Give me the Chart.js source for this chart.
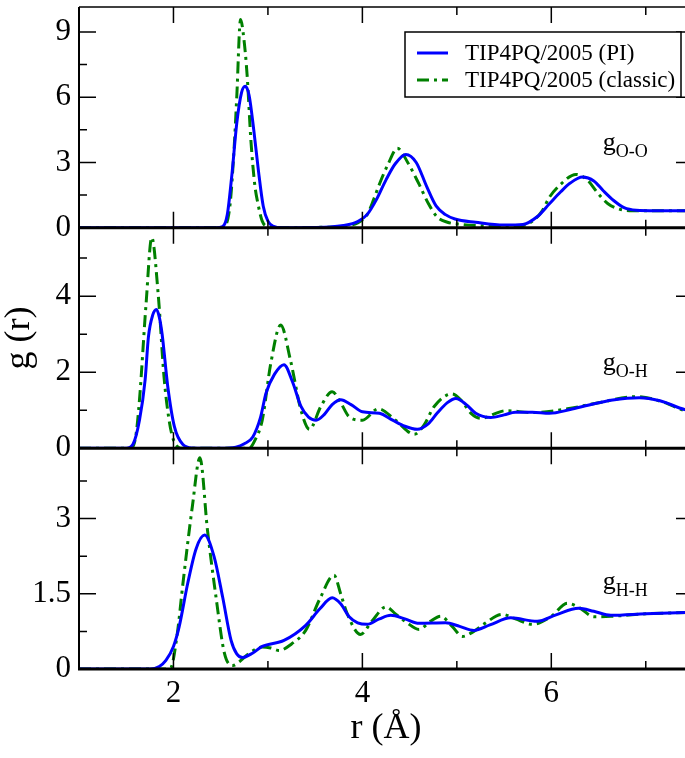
<!DOCTYPE html>
<html>
<head>
<meta charset="utf-8">
<script src="https://cdn.jsdelivr.net/npm/chart.js@4/dist/chart.umd.min.js"></script>
<style>
  html, body { margin: 0; padding: 0; overflow: hidden; background: #fff; }
  #wrap { position: relative; width: 700px; height: 758px; }
</style>
</head>
<body>
<div id="wrap"><canvas id="rdf" width="700" height="758"></canvas></div>
<script>
// g_O-O
const rOO_pi = [1.0, 2.45, 2.52, 2.57, 2.62, 2.67, 2.72, 2.76, 2.80, 2.85, 2.90, 2.95, 3.00, 3.06, 3.15, 3.6, 3.8, 3.95, 4.05, 4.15, 4.25, 4.35, 4.46, 4.57, 4.68, 4.78, 4.88, 4.98, 5.2, 5.5, 5.7, 5.85, 5.98, 6.1, 6.2, 6.33, 6.45, 6.55, 6.66, 6.77, 6.9, 7.1, 7.5];
const gOO_pi = [0, 0, 0.05, 0.6, 2.5, 4.8, 6.2, 6.5, 6.1, 4.5, 2.6, 1.0, 0.3, 0.06, 0, 0.02, 0.1, 0.28, 0.6, 1.3, 2.2, 2.95, 3.37, 3.0, 1.9, 1.0, 0.6, 0.4, 0.25, 0.12, 0.15, 0.5, 1.1, 1.65, 2.05, 2.33, 2.15, 1.7, 1.25, 0.92, 0.8, 0.78, 0.78];
const rOO_cl = [1.0, 2.5, 2.55, 2.6, 2.64, 2.67, 2.71, 2.745, 2.78, 2.82, 2.86, 2.89, 2.94, 3.0, 3.1, 3.6, 3.8, 3.95, 4.05, 4.12, 4.18, 4.27, 4.37, 4.48, 4.6, 4.7, 4.79, 4.9, 5.05, 5.3, 5.55, 5.7, 5.8, 5.9, 5.98, 6.1, 6.26, 6.38, 6.49, 6.6, 6.72, 6.86, 7.5];
const gOO_cl = [0, 0, 0.1, 1.1, 3.5, 6.0, 9.57, 8.7, 7.0, 4.0, 2.0, 1.2, 0.3, 0.05, 0, 0.02, 0.08, 0.22, 0.6, 1.3, 2.0, 2.9, 3.65, 3.0, 2.0, 1.1, 0.5, 0.25, 0.15, 0.08, 0.05, 0.1, 0.3, 0.75, 1.4, 2.0, 2.45, 2.2, 1.6, 1.1, 0.85, 0.78, 0.78];

// g_O-H
const rOH_pi = [1.0, 1.5, 1.57, 1.64, 1.7, 1.735, 1.78, 1.82, 1.85, 1.88, 1.94, 2.01, 2.1, 2.2, 2.5, 2.66, 2.75, 2.84, 2.92, 2.98, 3.07, 3.17, 3.26, 3.35, 3.43, 3.51, 3.6, 3.68, 3.77, 3.88, 4.0, 4.18, 4.32, 4.45, 4.58, 4.7, 4.79, 4.9, 4.99, 5.1, 5.2, 5.36, 5.5, 5.62, 5.8, 5.98, 6.2, 6.4, 6.65, 6.93, 7.15, 7.41, 7.5];
const gOH_pi = [0, 0, 0.1, 0.74, 1.8, 2.93, 3.5, 3.65, 3.45, 3.0, 1.62, 0.57, 0.1, 0.01, 0, 0.03, 0.12, 0.3, 0.8, 1.45, 1.95, 2.2, 1.75, 1.1, 0.82, 0.74, 0.9, 1.15, 1.28, 1.15, 0.96, 0.92, 0.74, 0.58, 0.5, 0.65, 0.92, 1.2, 1.31, 1.15, 0.92, 0.81, 0.88, 0.95, 0.95, 0.92, 1.02, 1.14, 1.27, 1.33, 1.25, 1.02, 0.98];
const rOH_cl = [1.0, 1.55, 1.6, 1.64, 1.71, 1.77, 1.84, 1.9, 1.95, 1.99, 2.05, 2.1, 2.8, 2.87, 2.94, 3.03, 3.135, 3.24, 3.35, 3.44, 3.56, 3.68, 3.77, 3.86, 4.0, 4.17, 4.35, 4.55, 4.65, 4.76, 4.95, 5.05, 5.15, 5.25, 5.52, 5.8, 6.17, 6.5, 6.91, 7.2, 7.41, 7.5];
const gOH_cl = [0, 0, 0.3, 1.27, 3.8, 5.54, 4.0, 1.88, 0.8, 0.3, 0.03, 0, 0, 0.25, 0.74, 2.23, 3.24, 2.3, 1.0, 0.5, 1.1, 1.49, 1.2, 0.83, 0.74, 1.04, 0.74, 0.37, 0.6, 1.1, 1.43, 1.25, 0.92, 0.79, 0.99, 0.94, 1.04, 1.2, 1.36, 1.2, 0.99, 0.96];

// g_H-H
const rHH_pi = [1.0, 1.75, 1.85, 1.92, 2.0, 2.06, 2.15, 2.24, 2.33, 2.43, 2.52, 2.61, 2.67, 2.73, 2.84, 2.94, 3.17, 3.4, 3.55, 3.68, 3.77, 3.86, 3.95, 4.05, 4.18, 4.3, 4.45, 4.6, 4.88, 5.03, 5.18, 5.35, 5.57, 5.85, 6.05, 6.29, 6.45, 6.63, 7.0, 7.5];
const gHH_pi = [0, 0, 0.05, 0.17, 0.45, 0.84, 1.7, 2.4, 2.67, 2.24, 1.44, 0.57, 0.3, 0.23, 0.32, 0.45, 0.57, 0.87, 1.2, 1.42, 1.3, 1.04, 0.92, 0.89, 1.0, 1.07, 1.0, 0.91, 0.92, 0.85, 0.77, 0.88, 1.02, 0.95, 1.08, 1.21, 1.15, 1.07, 1.1, 1.13];
const rHH_cl = [1.0, 1.9, 1.97, 2.04, 2.1, 2.2, 2.28, 2.36, 2.45, 2.54, 2.63, 2.7, 2.8, 2.94, 3.03, 3.12, 3.25, 3.4, 3.55, 3.7, 3.77, 3.84, 3.98, 4.1, 4.25, 4.35, 4.46, 4.6, 4.72, 4.83, 4.95, 5.06, 5.18, 5.29, 5.48, 5.62, 5.8, 6.0, 6.17, 6.3, 6.45, 6.63, 7.0, 7.5];
const gHH_cl = [0, 0, 0.02, 0.7, 1.7, 3.24, 4.21, 2.77, 1.44, 0.31, 0.07, 0.15, 0.31, 0.44, 0.42, 0.37, 0.5, 0.77, 1.4, 1.87, 1.5, 1.1, 0.69, 0.95, 1.24, 1.1, 0.94, 0.79, 0.95, 1.05, 0.85, 0.65, 0.75, 0.9, 1.09, 1.0, 0.89, 1.05, 1.31, 1.22, 1.04, 1.05, 1.1, 1.13];

const seriesNames = ["TIP4PQ/2005 (PI)", "TIP4PQ/2005 (classic)"];
const panelNames = ["O-O", "O-H", "H-H"];
const panelMax = [10.15, 5.8, 4.4];
const yMajor = [[0, 3, 6, 9], [0, 2, 4], [0, 1.5, 3]];
const yMinor = [[1.5, 4.5, 7.5], [1, 3, 5], [0.75, 2.25, 3.75]];
const xMajor = [2, 4, 6];
const xMinor = [3, 5, 7];
const labelAt = [[6.545, 3.57], [6.545, 2.05], [6.545, 1.59]]; // (r, g) of panel labels

const SERIF = '"Liberation Serif", "DejaVu Serif", serif';
const BLUE = "#0000ff";
const GREEN = "#008000";
const panelIds = ["yOO", "yOH", "yHH"];

function pts(r, g) {
  return r.map((x, i) => ({ x: x, y: g[i] }));
}

function pair(id, rPi, gPi, rCl, gCl) {
  return [
    { label: seriesNames[0], data: pts(rPi, gPi), yAxisID: id, borderColor: BLUE, borderWidth: 3 },
    { label: seriesNames[1], data: pts(rCl, gCl), yAxisID: id, borderColor: GREEN, borderWidth: 3, borderDash: [12, 5, 3, 5] },
  ];
}

const datasets = [
  ...pair("yOO", rOO_pi, gOO_pi, rOO_cl, gOO_cl),
  ...pair("yOH", rOH_pi, gOH_pi, rOH_cl, gOH_cl),
  ...pair("yHH", rHH_pi, gHH_pi, rHH_cl, gHH_cl),
];

function yScale(i, extra) {
  return Object.assign({
    type: "linear",
    position: "left",
    stack: "panels",
    stackWeight: 1,
    min: 0,
    max: panelMax[i],
    afterBuildTicks: (s) => { s.ticks = yMajor[i].map((v) => ({ value: v })); },
    afterFit: (s) => { s.width = 79; s.paddingTop = 0; s.paddingBottom = 0; },
    grid: { display: false, drawTicks: false },
    border: { display: false },
    ticks: { color: "#000", padding: 8, font: { family: SERIF, size: 31 } },
  }, extra || {});
}

// axes frame and tick marks, like the original plot
const frame = {
  id: "frame",
  afterDatasetsDraw(chart) {
    const ctx = chart.ctx;
    const xs = chart.scales.x;
    const L = chart.chartArea.left, R = chart.chartArea.right;
    ctx.save();
    ctx.strokeStyle = "#000";
    panelIds.forEach((id, i) => {
      const ys = chart.scales[id];
      const T = ys.top, B = ys.bottom;
      ctx.lineWidth = 2;
      ctx.beginPath();
      ctx.moveTo(L, T); ctx.lineTo(L, B);
      ctx.moveTo(R, T); ctx.lineTo(R, B);
      ctx.stroke();
      yMajor[i].concat(yMinor[i]).forEach((v) => {
        const len = yMajor[i].includes(v) ? 17 : 8;
        const py = ys.getPixelForValue(v);
        ctx.lineWidth = 1.5;
        ctx.beginPath();
        ctx.moveTo(L, py); ctx.lineTo(L + len, py);
        ctx.moveTo(R, py); ctx.lineTo(R - len, py);
        ctx.stroke();
      });
      xMajor.concat(xMinor).forEach((v) => {
        const len = xMajor.includes(v) ? 16 : 8;
        const px = xs.getPixelForValue(v);
        ctx.lineWidth = 1.5;
        ctx.beginPath();
        ctx.moveTo(px, B); ctx.lineTo(px, B - len);
        ctx.moveTo(px, T); ctx.lineTo(px, T + len);
        ctx.stroke();
      });
      if (i === 0) {
        ctx.lineWidth = 1.5;
        ctx.beginPath();
        ctx.moveTo(L, T); ctx.lineTo(R, T);
        ctx.stroke();
      }
      ctx.lineWidth = 3;
      ctx.beginPath();
      ctx.moveTo(L - 1, B); ctx.lineTo(R + 1, B);
      ctx.stroke();

      // g_xx label
      const lx = xs.getPixelForValue(labelAt[i][0]);
      const ly = ys.getPixelForValue(labelAt[i][1]);
      ctx.fillStyle = "#000";
      ctx.textBaseline = "alphabetic";
      ctx.textAlign = "left";
      ctx.font = "26px " + SERIF;
      ctx.fillText("g", lx, ly);
      const w = ctx.measureText("g").width;
      ctx.font = "18px " + SERIF;
      ctx.fillText(panelNames[i], lx + w, ly + 7);
    });
    ctx.restore();
  },
};

// boxed legend in the top right corner
const boxLegend = {
  id: "boxLegend",
  afterDraw(chart) {
    const ctx = chart.ctx;
    const top = chart.chartArea.top;
    const x0 = 405, x1 = chart.chartArea.right - 12;
    const y0 = top + 25, y1 = top + 90;
    ctx.save();
    ctx.fillStyle = "#fff";
    ctx.fillRect(x0, y0, x1 - x0, y1 - y0);
    ctx.strokeStyle = "#000";
    ctx.lineWidth = 1.5;
    ctx.strokeRect(x0, y0, x1 - x0, y1 - y0);
    [0, 1].forEach((k) => {
      const ds = chart.data.datasets[k];
      const y = y0 + 21 + k * 27;
      ctx.strokeStyle = ds.borderColor;
      ctx.lineWidth = ds.borderWidth;
      ctx.setLineDash(ds.borderDash || []);
      ctx.beginPath();
      ctx.moveTo(x0 + 12, y); ctx.lineTo(x0 + 43, y);
      ctx.stroke();
      ctx.setLineDash([]);
      ctx.fillStyle = "#000";
      ctx.font = "23px " + SERIF;
      ctx.textBaseline = "middle";
      ctx.textAlign = "left";
      ctx.fillText(ds.label, x0 + 60, y + 1);
    });
    ctx.restore();
  },
};

new Chart(document.getElementById("rdf"), {
  type: "line",
  data: { datasets: datasets },
  options: {
    responsive: false,
    animation: false,
    parsing: false,
    layout: { padding: { top: 7, right: 7, left: 0, bottom: 0 } },
    elements: {
      point: { radius: 0 },
      line: { tension: 0, cubicInterpolationMode: "monotone", fill: false },
    },
    plugins: { legend: { display: false }, tooltip: { enabled: false } },
    scales: {
      x: {
        type: "linear",
        min: 1,
        max: 7.5,
        afterBuildTicks: (s) => { s.ticks = xMajor.map((v) => ({ value: v })); },
        afterFit: (s) => { s.height = 89; s.paddingLeft = 0; s.paddingRight = 0; },
        grid: { display: false, drawTicks: false },
        border: { display: false },
        ticks: { color: "#000", padding: 6, font: { family: SERIF, size: 31 } },
        title: { display: true, text: "r (Å)", color: "#000", padding: { top: 0, bottom: 8 }, font: { family: SERIF, size: 36, lineHeight: 1.2 } },
      },
      yHH: yScale(2),
      yOH: yScale(1, { title: { display: true, text: "g (r)", color: "#000", padding: 0, font: { family: SERIF, size: 36, lineHeight: 1.1 } } }),
      yOO: yScale(0),
    },
  },
  plugins: [frame, boxLegend],
});
</script>
</body>
</html>
